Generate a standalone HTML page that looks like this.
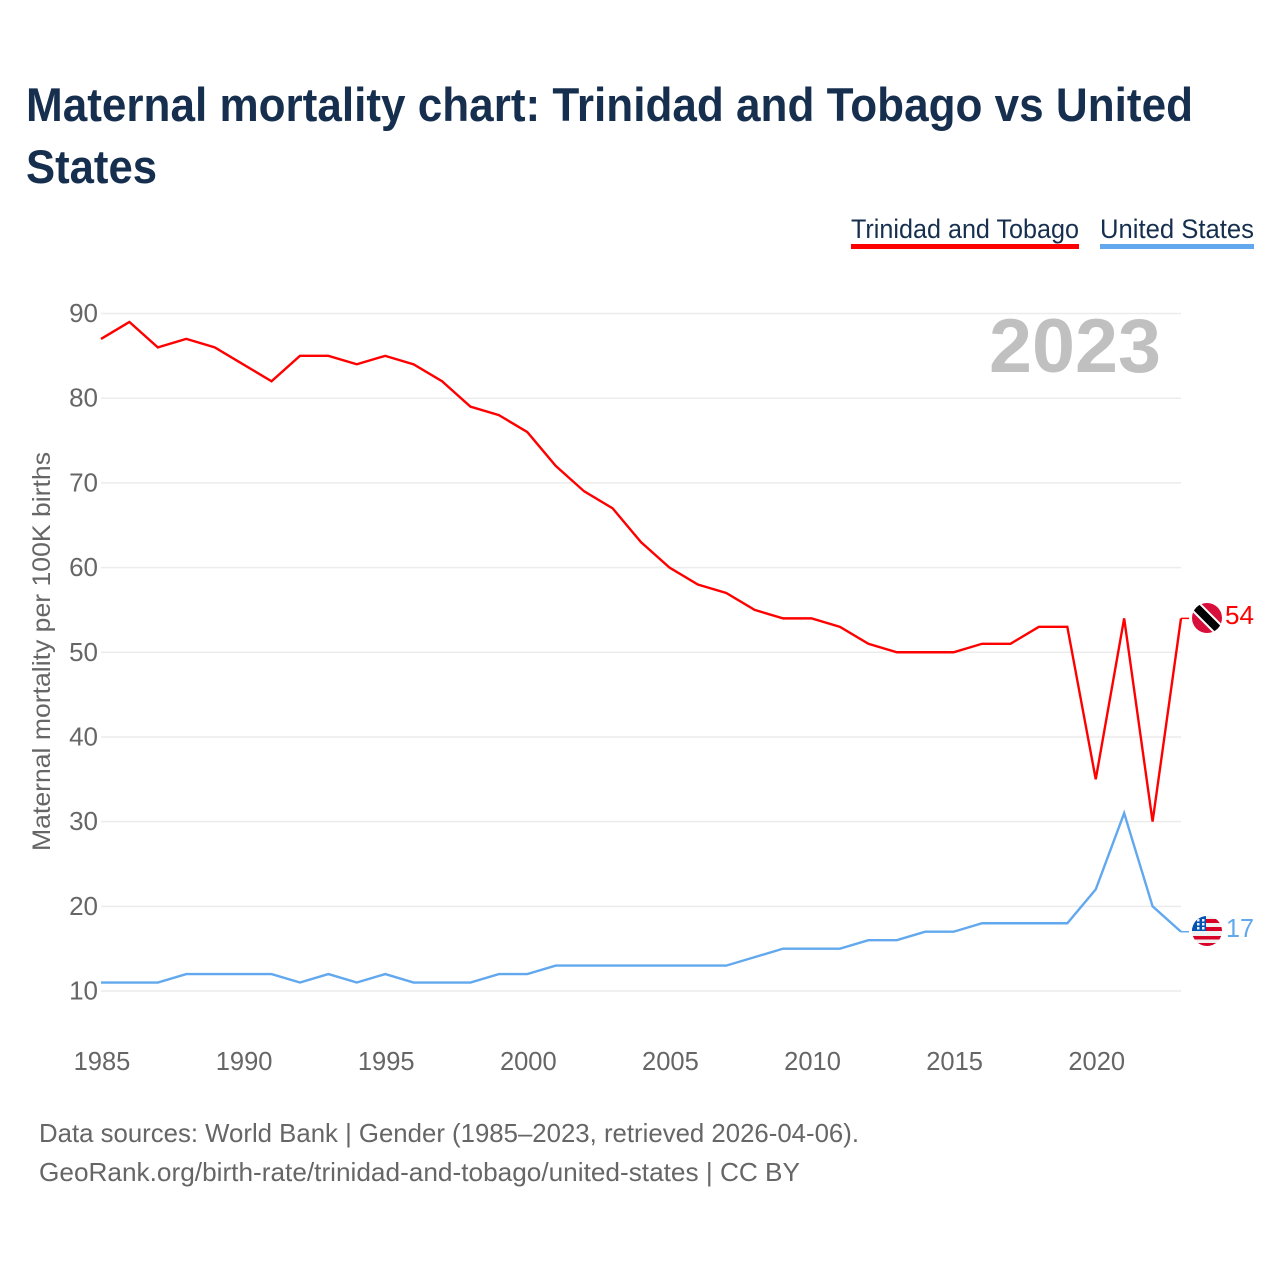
<!DOCTYPE html>
<html lang="en">
<head>
<meta charset="utf-8">
<title>Maternal mortality chart: Trinidad and Tobago vs United States</title>
<style>
html,body{margin:0;padding:0;background:#fff;}
body{width:1280px;height:1280px;overflow:hidden;}
svg{display:block;}
text{font-family:"Liberation Sans",sans-serif;}
</style>
</head>
<body>
<svg id="chart" width="1280" height="1280" viewBox="0 0 1280 1280" xmlns="http://www.w3.org/2000/svg">
  <defs>
    <clipPath id="flag-clip-tt"><circle cx="1207" cy="618" r="15"/></clipPath>
    <clipPath id="flag-clip-us"><circle cx="1207" cy="931" r="15"/></clipPath>
  </defs>
  <rect x="0" y="0" width="1280" height="1280" fill="#ffffff"/>
  <text x="26" y="121" font-size="47" font-weight="700" fill="#172f4f" textLength="1167" lengthAdjust="spacingAndGlyphs">Maternal mortality chart: Trinidad and Tobago vs United</text>
  <text x="26" y="183" font-size="47" font-weight="700" fill="#172f4f" textLength="131" lengthAdjust="spacingAndGlyphs">States</text>

  <g>
    <text x="851" y="238" font-size="27" fill="#172f4f" textLength="228" lengthAdjust="spacingAndGlyphs">Trinidad and Tobago</text>
    <rect x="851" y="244" width="228" height="5" fill="#ff0000"/>
  </g>
  <g>
    <text x="1100" y="238" font-size="27" fill="#172f4f" textLength="154" lengthAdjust="spacingAndGlyphs">United States</text>
    <rect x="1100" y="244" width="154" height="5" fill="#62a8ee"/>
  </g>

  <g id="grid"></g>
  <g id="y-ticks"></g>
  <g id="x-ticks"></g>
  <text transform="translate(50,851) rotate(-90)" font-size="25" fill="#666666" textLength="399" lengthAdjust="spacingAndGlyphs">Maternal mortality per 100K births</text>
  <text x="1161" y="372" text-anchor="end" font-size="76" font-weight="700" fill="#c0c0c0" textLength="172" lengthAdjust="spacingAndGlyphs">2023</text>

  <g id="series"></g>

  <g clip-path="url(#flag-clip-tt)">
    <rect x="1192" y="603" width="30" height="30" fill="#d80f3a"/>
    <line x1="1192" y1="603" x2="1222" y2="633" stroke="#ffffff" stroke-width="12"/>
    <line x1="1192" y1="603" x2="1222" y2="633" stroke="#000000" stroke-width="8"/>
  </g>
  <g clip-path="url(#flag-clip-us)">
    <rect x="1192" y="916" width="30" height="30" fill="#f0f0f0"/>
    <rect x="1192" y="919" width="30" height="4" fill="#d80027"/>
    <rect x="1192" y="927" width="30" height="4" fill="#d80027"/>
    <rect x="1192" y="936" width="30" height="3.5" fill="#d80027"/>
    <rect x="1192" y="943" width="30" height="4" fill="#d80027"/>
    <rect x="1192" y="916" width="14" height="15" fill="#0052b4"/>
    <rect x="1197" y="919" width="2.5" height="2.5" fill="#f0f0f0"/>
    <rect x="1202" y="919" width="2.5" height="2.5" fill="#f0f0f0"/>
    <rect x="1197" y="923" width="2.5" height="2.5" fill="#f0f0f0"/>
    <rect x="1202" y="923" width="2.5" height="2.5" fill="#f0f0f0"/>
    <rect x="1197" y="927" width="2.5" height="2.5" fill="#f0f0f0"/>
    <rect x="1202" y="927" width="2.5" height="2.5" fill="#f0f0f0"/>
  </g>
  <text x="1225" y="624" font-size="26" fill="#ff0000" textLength="29" lengthAdjust="spacingAndGlyphs">54</text>
  <text x="1226" y="937" font-size="26" fill="#62a8ee" textLength="28" lengthAdjust="spacingAndGlyphs">17</text>

  <text x="39" y="1142" font-size="26" fill="#666666" textLength="820" lengthAdjust="spacingAndGlyphs">Data sources: World Bank | Gender (1985–2023, retrieved 2026-04-06).</text>
  <text x="39" y="1181" font-size="26" fill="#666666" textLength="761" lengthAdjust="spacingAndGlyphs">GeoRank.org/birth-rate/trinidad-and-tobago/united-states | CC BY</text>
</svg>
<script>
const years = [1985,1986,1987,1988,1989,1990,1991,1992,1993,1994,1995,1996,1997,1998,1999,2000,2001,2002,2003,2004,2005,2006,2007,2008,2009,2010,2011,2012,2013,2014,2015,2016,2017,2018,2019,2020,2021,2022,2023];
const trinidadValues = [87,89,86,87,86,84,82,85,85,84,85,84,82,79,78,76,72,69,67,63,60,58,57,55,54,54,53,51,50,50,50,51,51,53,53,35,54,30,54];
const usValues = [11,11,11,12,12,12,12,11,12,11,12,11,11,11,12,12,13,13,13,13,13,13,13,14,15,15,15,16,16,17,17,18,18,18,18,22,31,20,17];
const yTickValues = [10,20,30,40,50,60,70,80,90];
const xTickValues = [1985,1990,1995,2000,2005,2010,2015,2020];

const SVG_NS = 'http://www.w3.org/2000/svg';
const xScale = function (year) { return 101 + (year - 1985) * (1181 - 101) / (2023 - 1985); };
const yScale = function (value) { return 991 - (value - 10) * (991 - 313.5) / (90 - 10); };

const gridGroup = document.getElementById('grid');
const yTickGroup = document.getElementById('y-ticks');
const xTickGroup = document.getElementById('x-ticks');
const seriesGroup = document.getElementById('series');

yTickValues.forEach(function (value) {
  const line = document.createElementNS(SVG_NS, 'line');
  
  
  line.setAttribute('x1', 101);
  line.setAttribute('x2', 1181);
  line.setAttribute('y1', yScale(value));
  line.setAttribute('y2', yScale(value));
  line.setAttribute('stroke', '#ececec');
  line.setAttribute('stroke-width', '1.5');
  gridGroup.appendChild(line);

  const label = document.createElementNS(SVG_NS, 'text');
  
  
  label.setAttribute('x', 98);
  label.setAttribute('y', yScale(value) + 8.5);
  label.setAttribute('text-anchor', 'end');
  label.setAttribute('font-size', '26');
  label.setAttribute('fill', '#666666');
  label.textContent = value;
  yTickGroup.appendChild(label);
});

xTickValues.forEach(function (year) {
  const label = document.createElementNS(SVG_NS, 'text');
  
  
  label.setAttribute('x', xScale(year) + 1);
  label.setAttribute('y', 1070);
  label.setAttribute('text-anchor', 'middle');
  label.setAttribute('font-size', '25.5');
  label.setAttribute('fill', '#666666');
  label.textContent = year;
  xTickGroup.appendChild(label);
});

function linePoints(values) {
  return values.map(function (value, i) {
    return xScale(years[i]).toFixed(2) + ',' + yScale(value).toFixed(2);
  }).join(' ');
}

const trinidadLine = document.createElementNS(SVG_NS, 'polyline');


trinidadLine.setAttribute('points', linePoints(trinidadValues));
trinidadLine.setAttribute('fill', 'none');
trinidadLine.setAttribute('stroke', '#ff0000');
trinidadLine.setAttribute('stroke-width', '2.4');
seriesGroup.appendChild(trinidadLine);

const usLine = document.createElementNS(SVG_NS, 'polyline');


usLine.setAttribute('points', linePoints(usValues));
usLine.setAttribute('fill', 'none');
usLine.setAttribute('stroke', '#62a8ee');
usLine.setAttribute('stroke-width', '2.4');
seriesGroup.appendChild(usLine);

const trinidadLeader = document.createElementNS(SVG_NS, 'line');


trinidadLeader.setAttribute('x1', xScale(years[years.length - 1]));
trinidadLeader.setAttribute('x2', 1189);
trinidadLeader.setAttribute('y1', yScale(trinidadValues[trinidadValues.length - 1]));
trinidadLeader.setAttribute('y2', yScale(trinidadValues[trinidadValues.length - 1]));
trinidadLeader.setAttribute('stroke', '#ff0000');
trinidadLeader.setAttribute('stroke-width', '1.5');
seriesGroup.appendChild(trinidadLeader);

const usLeader = document.createElementNS(SVG_NS, 'line');


usLeader.setAttribute('x1', xScale(years[years.length - 1]));
usLeader.setAttribute('x2', 1189);
usLeader.setAttribute('y1', yScale(usValues[usValues.length - 1]));
usLeader.setAttribute('y2', yScale(usValues[usValues.length - 1]));
usLeader.setAttribute('stroke', '#62a8ee');
usLeader.setAttribute('stroke-width', '1.5');
seriesGroup.appendChild(usLeader);
</script>
</body>
</html>
